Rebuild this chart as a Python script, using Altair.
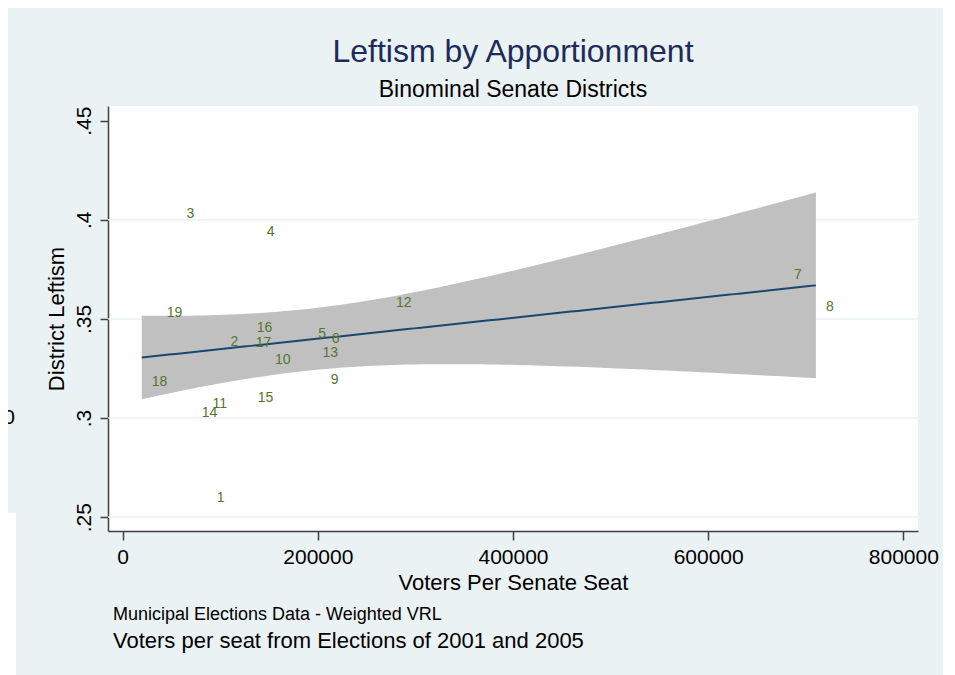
import numpy as np
import pandas as pd
import altair as alt

# ---- data ----
district = list(range(1, 20))
voters = [86200, 100400, 55300, 137300, 190200, 203900, 677600, 710400, 202900, 145800,
          81800, 269800, 194500, 70800, 128200, 127200, 126100, 19600, 34900]
leftism = [0.2613, 0.3400, 0.4043, 0.3951, 0.3441, 0.3413, 0.3737, 0.3577, 0.3206, 0.3307,
           0.3085, 0.3597, 0.3342, 0.3042, 0.3118, 0.3468, 0.3392, 0.3199, 0.3547]
x_ticks = [0, 200000, 400000, 600000, 800000]
y_ticks = [0.25, 0.3, 0.35, 0.4, 0.45]
y_grid = [0.25, 0.3, 0.35, 0.4]

title_text = "Leftism by Apportionment"
subtitle_text = "Binominal Senate Districts"
x_title = "Voters Per Senate Seat"
y_title = "District Leftism"
note1 = "Municipal Elections Data - Weighted VRL"
note2 = "Voters per seat from Elections of 2001 and 2005"

# ---- linear fit with 95% CI of the mean (like Stata lfitci) ----
x = np.array(voters, dtype=float)
y = np.array(leftism, dtype=float)
n = len(x)
xm, ym = x.mean(), y.mean()
sxx = ((x - xm) ** 2).sum()
b = ((x - xm) * (y - ym)).sum() / sxx
a = ym - b * xm
s = np.sqrt(((y - (a + b * x)) ** 2).sum() / (n - 2))
tcrit = 2.1098  # t(0.975, 17)
xs = np.linspace(x.min(), x.max(), 100)
fit = a + b * xs
se = s * np.sqrt(1.0 / n + (xs - xm) ** 2 / sxx)
fit_df = pd.DataFrame({"x": xs, "fit": fit, "lo": fit - tcrit * se, "hi": fit + tcrit * se})

pts = pd.DataFrame({"district": district, "voters": voters, "leftism": leftism})
grid_df = pd.DataFrame({"g": y_grid})

FONT = "Liberation Sans"
x_scale = alt.Scale(domain=[-15000, 815000], nice=False, zero=False)
y_scale = alt.Scale(domain=[0.2430, 0.4574], nice=False, zero=False)

x_axis = alt.Axis(values=x_ticks, format="d", title=x_title, grid=False,
                  tickSize=9, labelPadding=23, labelBaseline="alphabetic",
                  labelFontSize=21, titleFontSize=22, titleFontWeight="normal",
                  titleX=405, titleY=58, titleBaseline="alphabetic")
y_axis = alt.Axis(values=y_ticks, title=y_title,
                  labelExpr="substring(format(datum.value, '.2~f'), 1)",
                  labelAngle=270, labelAlign="center", labelBaseline="alphabetic",
                  labelPadding=10, tickSize=8, labelFontSize=21,
                  titleFontSize=22, titleFontWeight="normal", titleAngle=270,
                  titleX=-45, titleY=212.5, titleAlign="center",
                  titleBaseline="alphabetic", grid=False)

grid = alt.Chart(grid_df).mark_rule(color="#EAF2F3", strokeWidth=1.5).encode(
    y=alt.Y("g:Q", scale=y_scale, axis=y_axis)
)

band = alt.Chart(fit_df).mark_area(color="#C0C0C0", opacity=1).encode(
    x=alt.X("x:Q", scale=x_scale, axis=x_axis),
    y=alt.Y("lo:Q", scale=y_scale, axis=y_axis),
    y2="hi:Q",
)

line = alt.Chart(fit_df).mark_line(color="#1A476F", strokeWidth=2).encode(
    x=alt.X("x:Q", scale=x_scale, axis=x_axis),
    y=alt.Y("fit:Q", scale=y_scale, axis=y_axis),
)

labels = alt.Chart(pts).mark_text(
    align="left", baseline="middle", dx=10, dy=3, fontSize=14, color="#55752F", font=FONT
).encode(
    x=alt.X("voters:Q", scale=x_scale, axis=x_axis),
    y=alt.Y("leftism:Q", scale=y_scale, axis=y_axis),
    text="district:N",
)

n1 = alt.Chart(pd.DataFrame({"t": [note1]})).mark_text(
    align="left", baseline="alphabetic", fontSize=18, color="black", font=FONT
).encode(text="t:N", x=alt.value(5), y=alt.value(514))

n2 = alt.Chart(pd.DataFrame({"t": [note2]})).mark_text(
    align="left", baseline="alphabetic", fontSize=22, color="black", font=FONT
).encode(text="t:N", x=alt.value(5), y=alt.value(542))

# fragment of the window behind (left edge of the screenshot)
patch = alt.Chart(pd.DataFrame({"k": [1]})).mark_rect(color="white").encode(
    x=alt.value(-100), x2=alt.value(-92), y=alt.value(407), y2=alt.value(569))
frag = alt.Chart(pd.DataFrame({"t": ["00"]})).mark_text(
    align="right", baseline="middle", fontSize=21, color="black", font=FONT
).encode(text="t:N", x=alt.value(-93), y=alt.value(312))

chart = alt.layer(grid, band, line, labels, n1, n2, patch, frag).properties(
    width=810, height=425,
    padding={"left": 100, "top": 98, "right": 25, "bottom": 144},
    autosize=alt.AutoSizeParams(type="none"),
    background="#EAF2F3",
    title=alt.TitleParams(text=title_text, subtitle=subtitle_text, fontSize=32,
                          subtitleFontSize=23, color="#1C2B5A", subtitleColor="black",
                          font=FONT, subtitleFont=FONT, fontWeight="normal",
                          anchor="middle", frame="group", offset=3, subtitlePadding=10),
).configure_view(stroke=None, fill="white").configure_axis(
    domainColor="#404040", domainWidth=1.5, tickColor="#404040", tickWidth=1.5,
    labelColor="black", titleColor="black", labelFont=FONT, titleFont=FONT,
)

chart.save("out.html", embed_options={"renderer": "svg", "actions": False})
